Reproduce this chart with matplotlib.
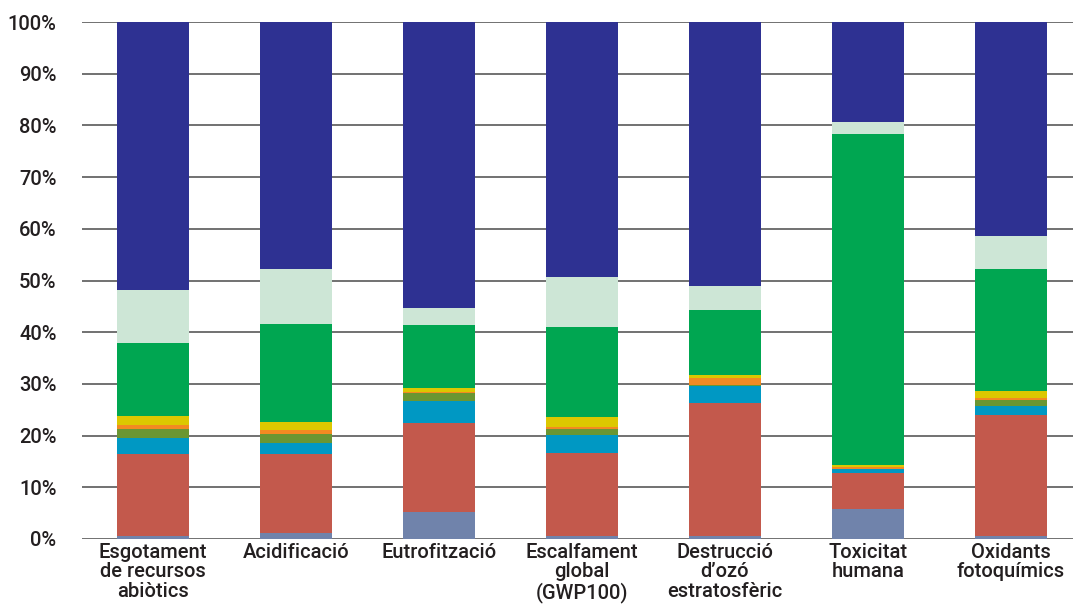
import matplotlib.pyplot as plt
import numpy as np

plt.rcParams['font.family'] = ['Roboto', 'DejaVu Sans']

categories = ['Esgotament\nde recursos\nabiòtics', 'Acidificació', 'Eutrofització',
              'Escalfament\nglobal\n(GWP100)', 'Destrucció\nd’ozó\nestratosfèric',
              'Toxicitat\nhumana', 'Oxidants\nfotoquímics']

# percentatge de cada component per categoria d'impacte (de baix a dalt)
comp_1 = [0.6, 1.1, 5.3, 0.6, 0.6, 5.8, 0.6]
comp_2 = [15.8, 15.3, 17.1, 16.1, 25.8, 6.9, 23.3]
comp_3 = [3.1, 2.2, 4.2, 3.4, 3.2, 0.8, 1.9]
comp_4 = [1.8, 1.8, 1.6, 1.2, 0.2, 0.1, 1.1]
comp_5 = [0.7, 0.7, 0.3, 0.4, 1.3, 0.4, 0.4]
comp_6 = [1.7, 1.5, 0.7, 1.9, 0.6, 0.3, 1.3]
comp_7 = [14.3, 19.0, 12.1, 17.4, 12.5, 64.1, 23.6]
comp_8 = [10.2, 10.6, 3.4, 9.6, 4.7, 2.3, 6.5]
comp_9 = [51.8, 47.8, 55.3, 49.4, 51.1, 19.3, 41.3]

series = [comp_1, comp_2, comp_3, comp_4, comp_5, comp_6, comp_7, comp_8, comp_9]
colors = ['#7083ab', '#c3594c', '#0098c3', '#6a9632', '#f28a22',
          '#dcc800', '#00a651', '#cde6d6', '#2e3192']

fig = plt.figure(figsize=(10.73, 6.12), dpi=100)
ax = fig.add_axes([81.5 / 1073, 73 / 612, 1 - 81.5 / 1073, 517 / 612])

x = np.arange(len(categories))
bottom = np.zeros(len(categories))
for vals, c in zip(series, colors):
    ax.bar(x, vals, width=0.5, bottom=bottom, color=c, zorder=3)
    bottom += np.array(vals)

ax.set_ylim(0, 100)
ax.set_xlim(-0.5, 6.435)
ax.set_yticks(range(0, 101, 10))
ax.set_yticklabels(['%d%%' % v for v in range(0, 101, 10)], fontweight='medium')
ax.yaxis.grid(True, color='#4a4a4a', linewidth=1.1, zorder=0)
ax.set_xticks(x)
ax.set_xticklabels(categories, linespacing=1.02, fontweight='medium')
ax.tick_params(axis='both', length=0, labelsize=14.5, colors='#231f20')
ax.tick_params(axis='y', pad=18)
ax.tick_params(axis='x', pad=3)
for s in ax.spines.values():
    s.set_visible(False)

fig.savefig('out.png', dpi=100)
